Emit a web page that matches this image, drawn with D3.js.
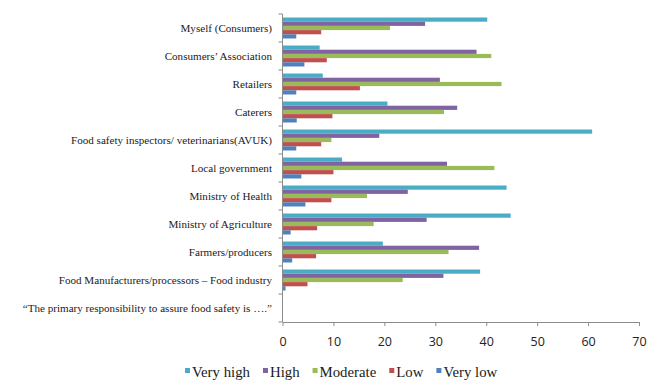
<!DOCTYPE html>
<html>
<head>
<meta charset="utf-8">
<script src="https://cdn.jsdelivr.net/npm/d3@7"></script>
<style>
  html, body { margin: 0; padding: 0; background: #fff; }
  svg { display: block; }
</style>
</head>
<body>
<svg id="chart" width="659" height="380"></svg>
<script>
// Stakeholder categories, top to bottom
const categories = [
  "Myself (Consumers)",
  "Consumers’ Association",
  "Retailers",
  "Caterers",
  "Food safety inspectors/ veterinarians(AVUK)",
  "Local government",
  "Ministry of Health",
  "Ministry of Agriculture",
  "Farmers/producers",
  "Food Manufacturers/processors – Food industry"
];
// Question prompt shown as the last row label (no bars)
const promptLabel = "“The primary responsibility to assure food safety is ….”";

const levels = ["Very high", "High", "Moderate", "Low", "Very low"];
const colors = ["#4BACC6", "#8064A2", "#9BBB59", "#C0504D", "#4F81BD"];

// Percent of respondents per level, aligned with categories
const veryHigh = [40.2, 7.3, 7.9, 20.6, 60.8, 11.7, 44.0, 44.8, 19.7, 38.8];
const high     = [28.0, 38.1, 30.9, 34.3, 19.0, 32.3, 24.6, 28.3, 38.6, 31.6];
const moderate = [21.1, 41.0, 43.0, 31.7, 9.6, 41.6, 16.6, 17.9, 32.6, 23.6];
const low      = [7.6, 8.7, 15.2, 9.8, 7.6, 10.0, 9.6, 6.8, 6.6, 4.9];
const veryLow  = [2.7, 4.3, 2.7, 2.8, 2.7, 3.7, 4.5, 1.6, 1.9, 0.6];

const xTicks = [0, 10, 20, 30, 40, 50, 60, 70];

const seriesValues = [veryHigh, high, moderate, low, veryLow];

const svg = d3.select("#chart");
const plotLeft = 282.5, plotRight = 639, plotTop = 14, plotBottom = 322;

const x = d3.scaleLinear().domain([0, 70]).range([plotLeft, plotRight]);
const y = d3.scaleBand()
  .domain(categories.concat([promptLabel]))
  .range([plotTop, plotBottom])
  .paddingInner(0.25)
  .paddingOuter(0.125);
const yInner = d3.scaleBand().domain(levels).range([0, y.bandwidth()]);

// Bars
const rows = categories.map((c, i) => ({
  cat: c,
  vals: levels.map((lv, k) => ({ level: lv, value: seriesValues[k][i], color: colors[k] }))
}));

const groups = svg.append("g").selectAll("g")
  .data(rows).join("g")
  .attr("transform", d => `translate(0,${y(d.cat)})`);

groups.selectAll("rect")
  .data(d => d.vals).join("rect")
  .attr("x", x(0))
  .attr("y", d => yInner(d.level))
  .attr("height", yInner.bandwidth())
  .attr("width", d => x(d.value) - x(0))
  .attr("fill", d => d.color);

// X axis
const xAxis = svg.append("g")
  .attr("transform", `translate(0,${plotBottom})`)
  .call(d3.axisBottom(x).tickValues(xTicks).tickSize(4).tickPadding(11).tickSizeOuter(0));
xAxis.select(".domain").attr("stroke", "#8c8c8c");
xAxis.selectAll(".tick line").attr("stroke", "#8c8c8c");
xAxis.selectAll(".tick text")
  .attr("font-family", "'Open Sans', 'Liberation Sans', sans-serif")
  .attr("font-size", 12.5)
  .attr("fill", "#222");

// Y axis line with boundary tick marks
const yAxis = svg.append("g");
yAxis.append("line")
  .attr("x1", x(0)).attr("x2", x(0))
  .attr("y1", plotTop).attr("y2", plotBottom)
  .attr("stroke", "#8c8c8c");
const boundaries = y.domain().map(c => y(c) - y.step() * y.paddingInner() / 2)
  .concat([plotBottom]);
yAxis.selectAll("line.tk")
  .data(boundaries).join("line")
  .attr("class", "tk")
  .attr("x1", x(0) - 4).attr("x2", x(0))
  .attr("y1", d => d).attr("y2", d => d)
  .attr("stroke", "#8c8c8c");

// Category labels
svg.append("g").selectAll("text")
  .data(y.domain()).join("text")
  .attr("x", 272)
  .attr("y", d => y(d) + y.bandwidth() / 2 + 0.5)
  .attr("dy", "0.35em")
  .attr("text-anchor", "end")
  .attr("font-family", "'Liberation Serif', 'Times New Roman', serif")
  .attr("font-size", 11.1)
  .attr("fill", "#1a1a1a")
  .text(d => d);

// Legend
const legend = svg.append("g").attr("transform", "translate(185,377)");
let lx = 0;
levels.forEach((lv, k) => {
  const g = legend.append("g").attr("transform", `translate(${lx},0)`);
  g.append("rect")
    .attr("x", 0).attr("y", -9)
    .attr("width", 5).attr("height", 5)
    .attr("fill", colors[k]);
  const t = g.append("text")
    .attr("x", 7).attr("y", 0)
    .attr("font-family", "'Liberation Serif', 'Times New Roman', serif")
    .attr("font-size", 14.8)
    .attr("fill", "#1a1a1a")
    .text(lv);
  lx += 7 + t.node().getComputedTextLength() + 13;
});
</script>
</body>
</html>
